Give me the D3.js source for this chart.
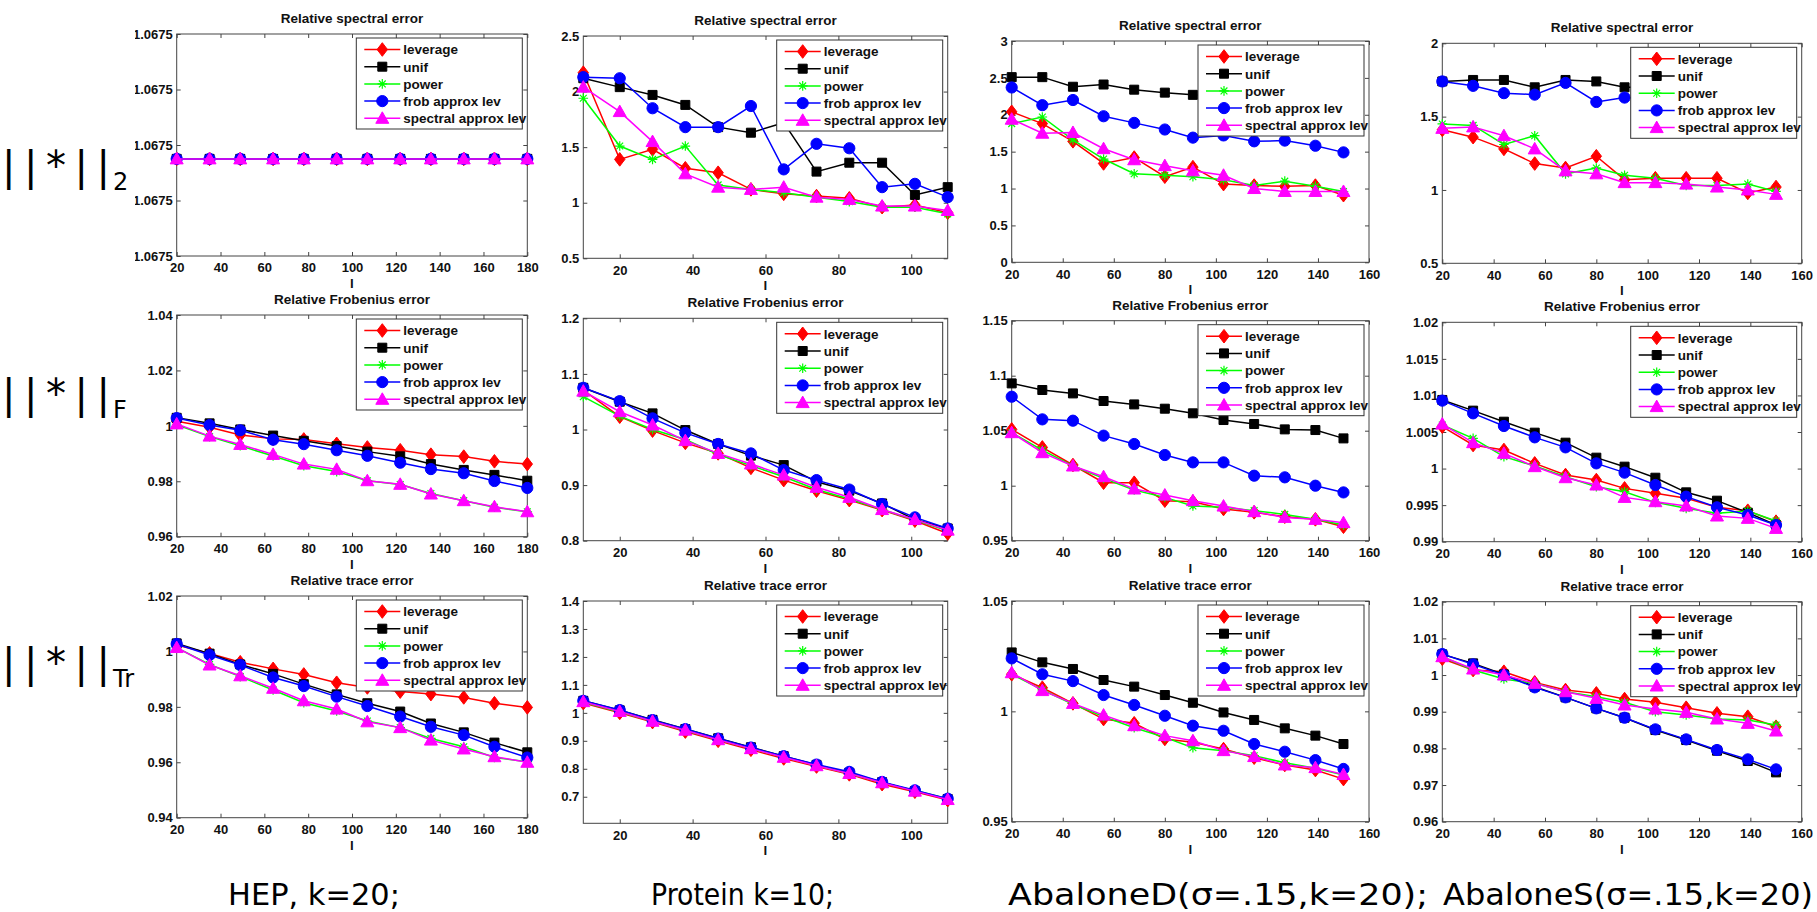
<!DOCTYPE html>
<html><head><meta charset="utf-8">
<script src="https://cdn.jsdelivr.net/npm/d3@7"></script>
<style>body{margin:0;background:#fff;} svg{display:block;}</style>
</head><body>
<svg id="c" width="1817" height="912"></svg>
<script>
// ---------------- data ----------------
const seriesNames = ["leverage", "unif", "power", "frob approx lev", "spectral approx lev"];
const seriesColors = ["#ff0000", "#000000", "#00ff00", "#0000ff", "#ff00ff"];
const seriesMarkers = ["diamond", "square", "asterisk", "circle", "triangle"];

const panelTitles = ["Relative spectral error", "Relative Frobenius error", "Relative trace error"];
const datasetLabels = ["HEP, k=20;", "Protein k=10;", "AbaloneD(\u03c3=.15,k=20);", "AbaloneS(\u03c3=.15,k=20)"];
const normMain = ["||*||", "||*||", "||*||"];
const normSub = ["2", "F", "Tr"];

const lHEP = [20, 35, 49, 64, 78, 93, 107, 122, 136, 151, 165, 180];
const lProtein = [10, 20, 29, 38, 47, 56, 65, 74, 83, 92, 101, 110];
const lAbalone = [20, 32, 44, 56, 68, 80, 91, 103, 115, 127, 139, 150];

const xTicksHEP = [20, 40, 60, 80, 100, 120, 140, 160, 180];
const xTicksProtein = [20, 40, 60, 80, 100];
const xTicksAbalone = [20, 40, 60, 80, 100, 120, 140, 160];

// series order in each panel: leverage, unif, power, frob approx lev, spectral approx lev
const hepSpectral = [
  [1.0674995,1.0674995,1.0674995,1.0674995,1.0674995,1.0674995,1.0674995,1.0674995,1.0674995,1.0674995,1.0674995,1.0674995],
  [1.0674995,1.0674995,1.0674995,1.0674995,1.0674995,1.0674995,1.0674995,1.0674995,1.0674995,1.0674995,1.0674995,1.0674995],
  [1.0674995,1.0674995,1.0674995,1.0674995,1.0674995,1.0674995,1.0674995,1.0674995,1.0674995,1.0674995,1.0674995,1.0674995],
  [1.0674995,1.0674995,1.0674995,1.0674995,1.0674995,1.0674995,1.0674995,1.0674995,1.0674995,1.0674995,1.0674995,1.0674995],
  [1.0674995,1.0674995,1.0674995,1.0674995,1.0674995,1.0674995,1.0674995,1.0674995,1.0674995,1.0674995,1.0674995,1.0674995]
];
const hepFrob = [
  [1.0017,0.9995,0.9967,0.9953,0.9951,0.9935,0.9922,0.9912,0.9896,0.9889,0.9872,0.9862],
  [1.0029,1.0009,0.9987,0.9965,0.9946,0.9927,0.9907,0.9890,0.9862,0.9841,0.9823,0.9802],
  [1.0004,0.9961,0.9928,0.9891,0.9856,0.9835,0.9802,0.9788,0.9756,0.9730,0.9706,0.9690],
  [1.0028,1.0003,0.9984,0.9950,0.9934,0.9912,0.9892,0.9867,0.9844,0.9829,0.9801,0.9776],
  [1.0007,0.9963,0.9933,0.9897,0.9862,0.9843,0.9802,0.9789,0.9754,0.9730,0.9708,0.9690]
];
const hepTrace = [
  [1.0023,0.9993,0.9961,0.9937,0.9917,0.9887,0.9870,0.9855,0.9846,0.9834,0.9813,0.9798],
  [1.0029,0.9992,0.9953,0.9919,0.9882,0.9845,0.9813,0.9783,0.9740,0.9708,0.9671,0.9636],
  [1.0014,0.9953,0.9909,0.9861,0.9815,0.9785,0.9749,0.9725,0.9686,0.9656,0.9617,0.9602],
  [1.0027,0.9987,0.9951,0.9906,0.9875,0.9837,0.9803,0.9765,0.9728,0.9698,0.9656,0.9617],
  [1.0014,0.9951,0.9912,0.9867,0.9822,0.9792,0.9746,0.9725,0.9680,0.9648,0.9620,0.9600]
];
const proteinSpectral = [
  [2.17,1.39,1.48,1.31,1.27,1.12,1.08,1.06,1.04,0.96,0.98,0.91],
  [2.12,2.04,1.97,1.88,1.68,1.63,1.72,1.28,1.36,1.36,1.07,1.14],
  [1.94,1.51,1.39,1.51,1.16,1.12,1.09,1.05,1.01,0.96,0.96,0.90],
  [2.13,2.12,1.85,1.68,1.68,1.87,1.30,1.53,1.49,1.14,1.17,1.05],
  [2.04,1.82,1.55,1.26,1.14,1.12,1.14,1.05,1.03,0.97,0.97,0.93]
];
const proteinFrob = [
  [1.071,1.023,0.998,0.976,0.957,0.931,0.909,0.890,0.873,0.855,0.836,0.813],
  [1.075,1.050,1.029,0.999,0.974,0.953,0.936,0.906,0.890,0.867,0.838,0.822],
  [1.059,1.024,1.000,0.982,0.955,0.935,0.915,0.892,0.875,0.856,0.837,0.818],
  [1.075,1.051,1.020,0.994,0.974,0.957,0.927,0.909,0.892,0.866,0.842,0.822],
  [1.069,1.032,1.008,0.980,0.957,0.938,0.918,0.896,0.878,0.856,0.838,0.819]
];
const proteinTrace = [
  [1.035,1.000,0.967,0.933,0.900,0.868,0.837,0.808,0.780,0.745,0.718,0.688],
  [1.043,1.009,0.975,0.942,0.909,0.877,0.845,0.814,0.786,0.752,0.720,0.692],
  [1.038,1.003,0.970,0.937,0.904,0.872,0.841,0.812,0.783,0.750,0.722,0.693],
  [1.043,1.010,0.974,0.942,0.908,0.876,0.845,0.815,0.789,0.753,0.723,0.693],
  [1.040,1.005,0.970,0.938,0.904,0.872,0.841,0.811,0.783,0.750,0.720,0.690]
];
const abaloneDSpectral = [
  [2.04,1.88,1.64,1.34,1.42,1.16,1.29,1.06,1.04,1.03,1.04,0.91],
  [2.51,2.51,2.38,2.41,2.34,2.30,2.27,2.25,2.21,2.20,2.16,2.12],
  [1.88,1.97,1.66,1.40,1.20,1.18,1.16,1.12,1.04,1.10,1.03,0.96],
  [2.37,2.13,2.20,1.98,1.89,1.80,1.69,1.72,1.64,1.65,1.58,1.49],
  [1.94,1.75,1.76,1.54,1.39,1.31,1.24,1.18,1.00,0.96,0.96,0.96]
];
const abaloneDFrob = [
  [1.0512,1.0348,1.0188,1.0027,1.0027,0.9864,0.9855,0.9788,0.9758,0.9718,0.9694,0.9627],
  [1.0930,1.0870,1.0839,1.0770,1.0739,1.0700,1.0658,1.0597,1.0561,1.0512,1.0506,1.0430],
  [1.0482,1.0324,1.0179,1.0067,0.9961,0.9894,0.9815,0.9803,0.9773,0.9739,0.9694,0.9642],
  [1.0809,1.0603,1.0591,1.0455,1.0379,1.0279,1.0212,1.0212,1.0091,1.0076,1.0000,0.9939],
  [1.0482,1.0300,1.0179,1.0082,0.9970,0.9915,0.9864,0.9815,0.9764,0.9712,0.9694,0.9664]
];
const abaloneDTrace = [
  [1.0168,1.0107,1.0036,0.9965,0.9946,0.9875,0.9860,0.9829,0.9790,0.9757,0.9734,0.9693],
  [1.0267,1.0222,1.0192,1.0142,1.0112,1.0074,1.0039,0.9995,0.9961,0.9923,0.9890,0.9852],
  [1.0168,1.0097,1.0032,0.9976,0.9926,0.9882,0.9835,0.9822,0.9799,0.9767,0.9742,0.9711],
  [1.0240,1.0168,1.0137,1.0074,1.0029,0.9980,0.9935,0.9912,0.9852,0.9817,0.9779,0.9739],
  [1.0175,1.0094,1.0036,0.9983,0.9935,0.9890,0.9867,0.9822,0.9795,0.9757,0.9745,0.9714]
];
const abaloneSSpectral = [
  [1.41,1.36,1.28,1.18,1.15,1.23,1.07,1.08,1.08,1.08,0.98,1.02],
  [1.74,1.75,1.75,1.70,1.75,1.74,1.70,1.70,1.70,1.69,1.69,1.68],
  [1.45,1.44,1.31,1.37,1.11,1.15,1.10,1.08,1.03,1.03,1.04,0.99],
  [1.74,1.71,1.66,1.65,1.73,1.60,1.63,1.62,1.60,1.60,1.58,1.57],
  [1.42,1.43,1.37,1.28,1.13,1.11,1.05,1.05,1.04,1.02,1.00,0.97]
];
const abaloneSFrob = [
  [1.00573,1.00322,1.00254,1.00071,0.99912,0.99843,0.99729,0.99661,0.99593,0.99470,0.99424,0.99274],
  [1.00938,1.00792,1.00641,1.00491,1.00354,1.00149,1.00026,0.99875,0.99675,0.99561,0.99397,0.99228],
  [1.00596,1.00413,1.00163,1.00035,0.99889,0.99752,0.99684,0.99538,0.99456,0.99388,0.99419,0.99283],
  [1.00929,1.00755,1.00582,1.00427,1.00290,1.00071,0.99944,0.99775,0.99616,0.99470,0.99365,0.99228],
  [1.00609,1.00354,1.00208,1.00026,0.99875,0.99775,0.99606,0.99547,0.99488,0.99351,0.99319,0.99182]
];
const abaloneSTrace = [
  [1.00445,1.00136,1.00091,0.99800,0.99591,0.99500,0.99345,0.99255,0.99109,0.98955,0.98864,0.98591],
  [1.00564,1.00318,1.00018,0.99682,0.99391,0.99091,0.98836,0.98500,0.98227,0.97936,0.97655,0.97345],
  [1.00500,1.00136,0.99891,0.99773,0.99545,0.99409,0.99255,0.99000,0.98909,0.98800,0.98773,0.98636],
  [1.00573,1.00291,1.00000,0.99664,0.99391,0.99091,0.98836,0.98518,0.98245,0.97955,0.97700,0.97427],
  [1.00500,1.00164,1.00000,0.99773,0.99545,0.99364,0.99182,0.99073,0.98982,0.98800,0.98682,0.98473]
];

// y axis domains and tick values, row-major (row = error type, column = dataset)
const yDomains = [
  [1.067496, 1.067504], [0.5, 2.5], [0, 3], [0.5, 2],
  [0.96, 1.04], [0.8, 1.2], [0.95, 1.15], [0.99, 1.02],
  [0.94, 1.02], [0.605, 1.4], [0.95, 1.05], [0.96, 1.02]
];
const yTickValues = [
  [1.067496, 1.067498, 1.0675, 1.067502, 1.067504], [0.5, 1, 1.5, 2, 2.5], [0, 0.5, 1, 1.5, 2, 2.5, 3], [0.5, 1, 1.5, 2],
  [0.96, 0.98, 1, 1.02, 1.04], [0.8, 0.9, 1, 1.1, 1.2], [0.95, 1, 1.05, 1.1, 1.15], [0.99, 0.995, 1, 1.005, 1.01, 1.015, 1.02],
  [0.94, 0.96, 0.98, 1, 1.02], [0.7, 0.8, 0.9, 1, 1.1, 1.2, 1.3, 1.4], [0.95, 1, 1.05], [0.96, 0.97, 0.98, 0.99, 1, 1.01, 1.02]
];

// ---------------- layout ----------------
const colX = [[176.7, 527.3], [583.3, 947.7], [1011.7, 1369], [1442.3, 1801.7]];
const rowY = [
  [[34, 256], [36, 258.3], [41, 262.3], [43.3, 263.3]],
  [[315, 536.7], [318.3, 540.7], [320.7, 540.7], [322.3, 541.7]],
  [[596, 817.7], [601, 823.3], [601, 821.7], [601.7, 821.7]]
];
const colL = [lHEP, lProtein, lAbalone, lAbalone];
const colXDomain = [[20, 180], [10, 110], [20, 160], [20, 160]];
const colXTicks = [xTicksHEP, xTicksProtein, xTicksAbalone, xTicksAbalone];
const panelData = [
  [hepSpectral, proteinSpectral, abaloneDSpectral, abaloneSSpectral],
  [hepFrob, proteinFrob, abaloneDFrob, abaloneSFrob],
  [hepTrace, proteinTrace, abaloneDTrace, abaloneSTrace]
];

const svg = d3.select("#c");
const FONT = "'Liberation Sans', Arial, Helvetica, sans-serif";
const LABELFONT = "'DejaVu Sans', sans-serif";

// norm labels on the far left
const normBase = [180, 408, 677];
normMain.forEach((t, i) => {
  svg.append("text").attr("x", 2).attr("y", normBase[i])
    .attr("font-family", LABELFONT).attr("font-size", 40)
    .attr("textLength", 108).attr("lengthAdjust", "spacing")
    .text(t);
  svg.append("text").attr("x", 113).attr("y", normBase[i] + 10)
    .attr("font-family", LABELFONT).attr("font-size", 24)
    .text(normSub[i]);
});

// first column panels sit on top of the labels (white background, clipped)
svg.append("rect").attr("x", 135).attr("y", 0).attr("width", 440).attr("height", 870).attr("fill", "#fff");
svg.append("clipPath").attr("id", "clip1").append("rect")
  .attr("x", 135).attr("y", 0).attr("width", 440).attr("height", 870);

function markerPath(type) {
  switch (type) {
    case "diamond": return "M0,-6.8L5.2,0L0,6.8L-5.2,0Z";
    case "square": return "M-4.5,-4.5H4.5V4.5H-4.5Z";
    case "circle": return d3.symbol(d3.symbolCircle, Math.PI * 5.6 * 5.6)();
    case "triangle": return "M0,-6.5L6.5,5L-6.5,5Z";
    case "asterisk": return "M-4.8,0H4.8M0,-4.8V4.8M-3.4,-3.4L3.4,3.4M-3.4,3.4L3.4,-3.4";
  }
}
function drawMarker(g, type, color, cx, cy) {
  const p = g.append("path").attr("d", markerPath(type))
    .attr("transform", `translate(${cx},${cy})`);
  if (type === "asterisk") p.attr("fill", "none").attr("stroke", color).attr("stroke-width", 1.2);
  else p.attr("fill", color).attr("stroke", color).attr("stroke-width", 1);
}

const fmt = d3.format("~g");

for (let r = 0; r < 3; r++) {
  for (let c = 0; c < 4; c++) {
    const x0 = colX[c][0], x1 = colX[c][1];
    const y0 = rowY[r][c][0], y1 = rowY[r][c][1];
    const g = svg.append("g");
    if (c === 0) g.attr("clip-path", "url(#clip1)");
    const x = d3.scaleLinear().domain(colXDomain[c]).range([x0, x1]);
    const y = d3.scaleLinear().domain(yDomains[r * 4 + c]).range([y1, y0]);
    const yFmt = (r === 0 && c === 0) ? d3.format(".4f") : fmt;

    // title
    g.append("text").attr("x", (x0 + x1) / 2).attr("y", y0 - 11)
      .attr("text-anchor", "middle").attr("font-family", FONT).attr("font-weight", "bold")
      .attr("font-size", 13.5).attr("fill", "#111").text(panelTitles[r]);

    // axes
    const styleAxis = sel => {
      sel.select(".domain").remove();
      sel.selectAll(".tick line").attr("stroke", "#444");
      sel.selectAll(".tick text").attr("font-family", FONT).attr("font-weight", "bold")
        .attr("font-size", 13).attr("fill", "#111");
    };
    g.append("g").attr("transform", `translate(0,${y1})`)
      .call(d3.axisBottom(x).tickValues(colXTicks[c]).tickSizeInner(-4).tickSizeOuter(0).tickPadding(7).tickFormat(fmt))
      .call(styleAxis);
    g.append("g").attr("transform", `translate(0,${y0})`)
      .call(d3.axisTop(x).tickValues(colXTicks[c]).tickSizeInner(-4).tickSizeOuter(0).tickFormat(""))
      .call(styleAxis);
    g.append("g").attr("transform", `translate(${x0},0)`)
      .call(d3.axisLeft(y).tickValues(yTickValues[r * 4 + c]).tickSizeInner(-4).tickSizeOuter(0).tickPadding(4).tickFormat(yFmt))
      .call(styleAxis);
    g.append("g").attr("transform", `translate(${x1},0)`)
      .call(d3.axisRight(y).tickValues(yTickValues[r * 4 + c]).tickSizeInner(-4).tickSizeOuter(0).tickFormat(""))
      .call(styleAxis);

    g.append("rect").attr("x", x0).attr("y", y0).attr("width", x1 - x0).attr("height", y1 - y0)
      .attr("fill", "none").attr("stroke", "#444").attr("stroke-width", 1);

    // x label
    g.append("text").attr("x", (x0 + x1) / 2).attr("y", y1 + 32)
      .attr("text-anchor", "middle").attr("font-family", FONT).attr("font-weight", "bold")
      .attr("font-size", 13.5).attr("fill", "#111").text("l");

    // series
    const lv = colL[c];
    const data = panelData[r][c];
    const line = d3.line().x((d, i) => x(lv[i])).y(d => y(d));
    data.forEach((vals, s) => {
      g.append("path").attr("d", line(vals)).attr("fill", "none")
        .attr("stroke", seriesColors[s]).attr("stroke-width", 1.5);
      vals.forEach((v, i) => drawMarker(g, seriesMarkers[s], seriesColors[s], x(lv[i]), y(v)));
    });

    // legend
    const lw = 166, lh = 91;
    const lx = x1 - 5 - lw, ly = y0 + 4;
    g.append("rect").attr("x", lx).attr("y", ly).attr("width", lw).attr("height", lh)
      .attr("fill", "#fff").attr("stroke", "#333").attr("stroke-width", 1);
    seriesNames.forEach((name, s) => {
      const cy = ly + 11.5 + s * 17.2;
      g.append("line").attr("x1", lx + 8).attr("x2", lx + 44).attr("y1", cy).attr("y2", cy)
        .attr("stroke", seriesColors[s]).attr("stroke-width", 1.5);
      drawMarker(g, seriesMarkers[s], seriesColors[s], lx + 26, cy);
      g.append("text").attr("x", lx + 47).attr("y", cy).attr("dy", "0.36em")
        .attr("font-family", FONT).attr("font-weight", "bold").attr("font-size", 13.5)
        .attr("fill", "#111").text(name);
    });
  }
}

// dataset labels at the bottom
const dsX = [228, 651, 1008, 1443];
const dsW = [172, 183, 420, 370];
datasetLabels.forEach((t, i) => {
  svg.append("text").attr("x", dsX[i]).attr("y", 905)
    .attr("font-family", LABELFONT).attr("font-size", 30)
    .attr("textLength", dsW[i]).attr("lengthAdjust", "spacingAndGlyphs")
    .text(t);
});
</script>
</body></html>
